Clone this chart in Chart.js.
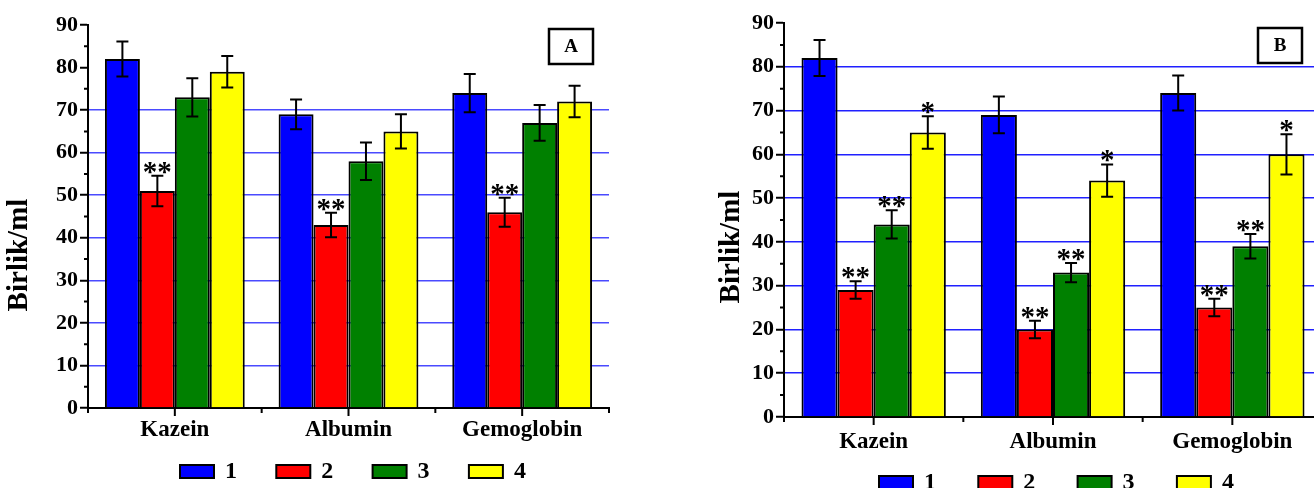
<!DOCTYPE html>
<html>
<head>
<meta charset="utf-8">
<script src="https://cdn.jsdelivr.net/npm/chart.js@4.4.1/dist/chart.umd.min.js"></script>
<style>
  html, body { margin: 0; padding: 0; background: #fff; width: 1314px; height: 488px; overflow: hidden; }
  #wrapA { position: absolute; left: 0; top: 0; }
  #wrapB { position: absolute; left: 660px; top: 0; }
</style>
</head>
<body>
<div id="wrapA"><canvas id="chartA" width="650" height="488"></canvas></div>
<div id="wrapB"><canvas id="chartB" width="680" height="488"></canvas></div>
<script>
const categories = ['Kazein', 'Albumin', 'Gemoglobin'];
const seriesNames = ['1', '2', '3', '4'];
const seriesColors = ['#0000ff', '#ff0000', '#008000', '#ffff00'];
const yMin = 0, yMax = 90, yStep = 10;

// panel A
const a1 = [82, 69, 74];
const a2 = [51, 43, 46];
const a3 = [73, 58, 67];
const a4 = [79, 65, 72];
const errA1 = [4.1, 3.5, 4.5];
const errA2 = [3.6, 2.9, 3.4];
const errA3 = [4.5, 4.4, 4.2];
const errA4 = [3.7, 4.0, 3.7];
const starsA1 = ['', '', ''];
const starsA2 = ['**', '**', '**'];
const starsA3 = ['', '', ''];
const starsA4 = ['', '', ''];

// panel B
const b1 = [82, 69, 74];
const b2 = [29, 20, 25];
const b3 = [44, 33, 39];
const b4 = [65, 54, 60];
const errB1 = [4.1, 4.2, 4.0];
const errB2 = [2.0, 2.0, 2.0];
const errB3 = [3.2, 2.2, 2.8];
const errB4 = [3.7, 3.7, 4.6];
const starsB1 = ['', '', ''];
const starsB2 = ['**', '**', '**'];
const starsB3 = ['**', '**', '**'];
const starsB4 = ['*', '*', '*'];

const FONT = '"Liberation Serif", "Times New Roman", serif';

// error bars, stars, extra ticks, tag box, legend and axis title
const panelPlugin = {
  id: 'panel',
  afterDatasetsDraw(chart, args, opts) {
    const ctx = chart.ctx;
    const area = chart.chartArea;
    const y = chart.scales.y;
    const x = chart.scales.x;
    ctx.save();
    ctx.strokeStyle = '#000';
    ctx.fillStyle = '#000';

    // error bars + stars
    chart.data.datasets.forEach((ds, di) => {
      const meta = chart.getDatasetMeta(di);
      meta.data.forEach((bar, i) => {
        const v = ds.data[i];
        const e = opts.errors[di][i];
        const yt = y.getPixelForValue(v + e);
        const yb = y.getPixelForValue(v - e);
        ctx.lineWidth = 2;
        ctx.beginPath();
        ctx.moveTo(bar.x, yt); ctx.lineTo(bar.x, yb);
        ctx.moveTo(bar.x - 6, yt); ctx.lineTo(bar.x + 6, yt);
        ctx.moveTo(bar.x - 6, yb); ctx.lineTo(bar.x + 6, yb);
        ctx.stroke();
        const s = opts.stars[di][i];
        if (s) {
          ctx.font = 'bold 29px ' + FONT;
          ctx.textAlign = 'center';
          ctx.textBaseline = 'alphabetic';
          const m = ctx.measureText(s);
          ctx.fillText(s, bar.x, yt - 2 - m.actualBoundingBoxDescent);
        }
      });
    });

    // minor y ticks
    ctx.lineWidth = 2;
    ctx.beginPath();
    for (let v = yMin + yStep / 2; v < yMax; v += yStep) {
      const py = y.getPixelForValue(v);
      ctx.moveTo(area.left - 4, py); ctx.lineTo(area.left, py);
    }
    // x ticks: centers long, boundaries short
    const n = categories.length;
    const cw = (area.right - area.left) / n;
    for (let i = 0; i < n; i++) {
      const px = x.getPixelForValue(i);
      ctx.moveTo(px, area.bottom); ctx.lineTo(px, area.bottom + 8);
    }
    for (let i = 0; i <= n; i++) {
      const px = area.left + i * cw;
      ctx.moveTo(px, area.bottom); ctx.lineTo(px, area.bottom + 5);
    }
    ctx.stroke();

    // tag box
    const t = opts.tag;
    ctx.lineWidth = 2.5;
    ctx.strokeRect(t.x, t.y, 44, 35);
    ctx.font = 'bold 19px ' + FONT;
    ctx.textAlign = 'center';
    ctx.textBaseline = 'middle';
    ctx.fillText(t.text, t.x + 22, t.y + 18);

    // legend
    const lg = opts.legend;
    seriesNames.forEach((name, i) => {
      const bx = lg.x + i * lg.step;
      ctx.fillStyle = seriesColors[i];
      ctx.fillRect(bx, lg.y, 34, 13);
      ctx.lineWidth = 2;
      ctx.strokeRect(bx, lg.y, 34, 13);
      ctx.fillStyle = '#000';
      ctx.font = 'bold 24px ' + FONT;
      ctx.textAlign = 'left';
      ctx.textBaseline = 'middle';
      ctx.fillText(name, bx + 45, lg.y + 7);
    });

    // y axis title
    ctx.translate(opts.title.x, opts.title.y);
    ctx.rotate(-Math.PI / 2);
    ctx.font = 'bold 29px ' + FONT;
    ctx.textAlign = 'center';
    ctx.textBaseline = 'middle';
    ctx.fillText('Birlik/ml', 0, 0);
    ctx.restore();
  }
};

function makeDatasets(values) {
  return values.map((data, i) => ({
    label: seriesNames[i],
    data: data,
    backgroundColor: seriesColors[i],
    borderColor: '#000',
    borderWidth: 2,
    categoryPercentage: 0.805,
    barPercentage: 1.0
  }));
}

function makeChart(id, values, cfg) {
  return new Chart(document.getElementById(id), {
    type: 'bar',
    data: { labels: categories, datasets: makeDatasets(values) },
    options: {
      responsive: false,
      animation: false,
      devicePixelRatio: 1,
      layout: { padding: cfg.padding },
      plugins: {
        legend: { display: false },
        tooltip: { enabled: false },
        panel: cfg.panel
      },
      scales: {
        x: {
          offset: true,
          grid: { display: false },
          border: { color: '#000', width: 2 },
          ticks: { color: '#000', font: { family: FONT, size: 23, weight: 'bold' }, padding: cfg.xPad },
          afterFit: s => { s.height = cfg.xHeight; }
        },
        y: {
          min: yMin,
          max: yMax,
          ticks: { stepSize: yStep, color: '#000', font: { family: FONT, size: 22, weight: 'bold' }, padding: 2 },
          grid: {
            color: c => (c.tick && c.tick.value > 0 && c.tick.value <= cfg.gridTop) ? cfg.gridColor : 'rgba(0,0,0,0)',
            lineWidth: 1.5,
            tickColor: '#000',
            tickLength: 8,
            tickWidth: 2
          },
          border: { color: '#000', width: 2 },
          afterFit: s => { s.width = cfg.yWidth; }
        }
      }
    },
    plugins: [panelPlugin]
  });
}

makeChart('chartA', [a1, a2, a3, a4], {
  padding: { top: 25, left: 0, right: 41, bottom: 0 },
  xHeight: 80,
  xPad: 0,
  yWidth: 88,
  gridTop: 70,
  gridColor: '#4a4aff',
  panel: {
    errors: [errA1, errA2, errA3, errA4],
    stars: [starsA1, starsA2, starsA3, starsA4],
    tag: { x: 549, y: 29, text: 'A' },
    legend: { x: 180, y: 465, step: 96.3 },
    title: { x: 20, y: 255 }
  }
});

makeChart('chartB', [b1, b2, b3, b4], {
  padding: { top: 23, left: 0, right: 18, bottom: 0 },
  xHeight: 71,
  xPad: 3,
  yWidth: 124,
  gridTop: 80,
  gridColor: '#2020ff',
  panel: {
    errors: [errB1, errB2, errB3, errB4],
    stars: [starsB1, starsB2, starsB3, starsB4],
    tag: { x: 598, y: 28, text: 'B' },
    legend: { x: 219, y: 476, step: 99.3 },
    title: { x: 72, y: 247 }
  }
});
</script>
</body>
</html>
